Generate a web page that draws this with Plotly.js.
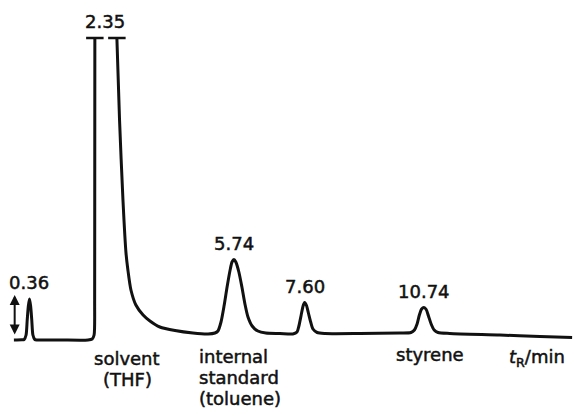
<!DOCTYPE html>
<html>
<head>
<meta charset="utf-8">
<script src="https://cdn.plot.ly/plotly-3.0.1.min.js"></script>
<style>
  html, body { margin: 0; padding: 0; background: #ffffff; }
  #chart { width: 575px; height: 408px; }
  /* slightly heavier lettering for the labels */
  #chart .annotation-text { stroke: #111111; stroke-width: 0.5px; }
</style>
</head>
<body>
<div id="chart"></div>
<script>
// Detector trace: retention time (min) and response (arbitrary units).
// The solvent peak runs off scale, so the trace is broken at the clip level.
const time = [
  -0.05, 0.16, 0.22, 0.27, 0.30, 0.33, 0.36, 0.39, 0.42, 0.45, 0.50, 0.56,
  1.16, 1.90, 2.01, 2.06, 2.075, 2.08,
  null,
  2.66, 2.73, 2.82, 2.90, 2.95, 3.03, 3.16, 3.35, 3.53, 3.79,
  4.19, 4.66, 5.06, 5.24,
  5.32, 5.40, 5.48, 5.56, 5.64, 5.69, 5.74, 5.79, 5.87, 5.95,
  6.03, 6.11, 6.22, 6.37, 6.58, 6.95, 7.29,
  7.40, 7.45, 7.51, 7.56, 7.60, 7.65, 7.70, 7.76, 7.82, 7.93,
  8.14, 9.06, 10.11, 10.40,
  10.49, 10.56, 10.62, 10.68, 10.74, 10.80, 10.86, 10.93, 11.01, 11.11,
  11.42, 12.74, 13.79, 14.64
];
const signal = [
  0.00, 0.02, 0.05, 0.50, 2.00, 3.40, 4.10, 3.40, 2.00, 0.50, 0.05, 0.00,
  0.00, 0.00, 0.10, 0.50, 4.00, 30.2,
  null,
  30.2, 22.0, 14.0, 8.70, 7.00, 5.00, 3.50, 2.50, 1.90, 1.30,
  0.95, 0.70, 0.60, 0.70,
  0.90, 1.80, 3.40, 5.30, 7.00, 7.80, 8.05, 7.80, 6.80, 5.30,
  3.60, 2.30, 1.40, 0.90, 0.70, 0.65, 0.60,
  0.80, 1.40, 2.50, 3.40, 3.75, 3.45, 2.70, 1.80, 1.10, 0.75,
  0.65, 0.65, 0.70, 0.75,
  1.00, 1.60, 2.50, 3.10, 3.25, 3.05, 2.40, 1.60, 1.00, 0.75,
  0.65, 0.50, 0.35, 0.25
];

// Retention times printed above the peaks
const peakTimes = [0.36, 2.35, 5.74, 7.60, 10.74];
const peakLabels = ['0.36', '2.35', '5.74', '7.60', '10.74'];

// Compound names written under the trace, one entry per text line
const compoundLines = [
  ['solvent', '(THF)'],
  ['internal', 'standard', '(toluene)'],
  ['styrene']
];
const compoundTimes = [2.93, 4.77, 10.90];
const compoundAnchors = ['center', 'left', 'center'];
const compoundTops = [-0.6, -0.4, -0.2];

const axisLabel = '<i>t</i><sub>R</sub>/min';

const ink = '#111111';
const font = { family: 'DejaVu Sans, sans-serif', size: 18, color: ink };
const lineStep = 21; // px between stacked label lines

// Clip level = highest drawn value; the off-scale peak edges sit on it.
const clipLevel = Math.max(...signal.filter(v => v !== null));
const clipEdges = time.filter((t, i) => signal[i] === clipLevel);

// Response at a given time.
function responseAt(t) {
  for (let i = 0; i < time.length - 1; i++) {
    const t0 = time[i], t1 = time[i + 1];
    if (t0 === null || t1 === null) continue;
    if (t >= t0 && t <= t1) {
      const f = t1 === t0 ? 0 : (t - t0) / (t1 - t0);
      return signal[i] + f * (signal[i + 1] - signal[i]);
    }
  }
  return clipLevel; // inside the off-scale gap
}

const trace = {
  x: time,
  y: signal,
  type: 'scatter',
  mode: 'lines',
  connectgaps: false,
  line: { color: ink, width: 3, shape: 'spline', smoothing: 0.7 },
  hoverinfo: 'skip'
};

const annotations = [];

peakTimes.forEach((t, i) => {
  annotations.push({
    x: t, y: responseAt(t), xref: 'x', yref: 'y',
    text: peakLabels[i], showarrow: false,
    xanchor: 'center', yanchor: 'bottom', yshift: 4,
    font: font
  });
});

compoundLines.forEach((lines, i) => {
  lines.forEach((line, k) => {
    annotations.push({
      x: compoundTimes[i], y: compoundTops[i], xref: 'x', yref: 'y',
      text: line, showarrow: false,
      xanchor: compoundAnchors[i], align: compoundAnchors[i], yanchor: 'top',
      yshift: -lineStep * k,
      font: font
    });
  });
});

annotations.push({
  x: 13.72, y: -0.4, xref: 'x', yref: 'y',
  text: axisLabel, showarrow: false,
  xanchor: 'center', yanchor: 'top',
  font: font
});

// Double-headed scale arrow at the start of the trace
annotations.push({
  x: -0.03, y: 4.5, xref: 'x', yref: 'y',
  ax: 0, ay: 41, axref: 'pixel', ayref: 'pixel',
  text: '', showarrow: true,
  arrowhead: 2, startarrowhead: 2, arrowside: 'end+start',
  arrowsize: 1, startarrowsize: 1, arrowwidth: 2, arrowcolor: ink
});

// Short bars marking where the solvent peak leaves the scale
const shapes = clipEdges.map(t => ({
  type: 'line', xref: 'x', yref: 'y',
  x0: t - 0.23, x1: t + 0.23, y0: clipLevel, y1: clipLevel,
  line: { color: ink, width: 2.5 }
}));

const layout = {
  width: 575,
  height: 408,
  margin: { l: 0, r: 0, t: 0, b: 0 },
  paper_bgcolor: '#ffffff',
  plot_bgcolor: '#ffffff',
  showlegend: false,
  xaxis: { range: [-0.416, 14.716], visible: false, fixedrange: true },
  yaxis: { range: [-6.8, 34.0], visible: false, fixedrange: true },
  annotations: annotations,
  shapes: shapes
};

Plotly.newPlot('chart', [trace], layout, { staticPlot: true, displayModeBar: false });
</script>
</body>
</html>
